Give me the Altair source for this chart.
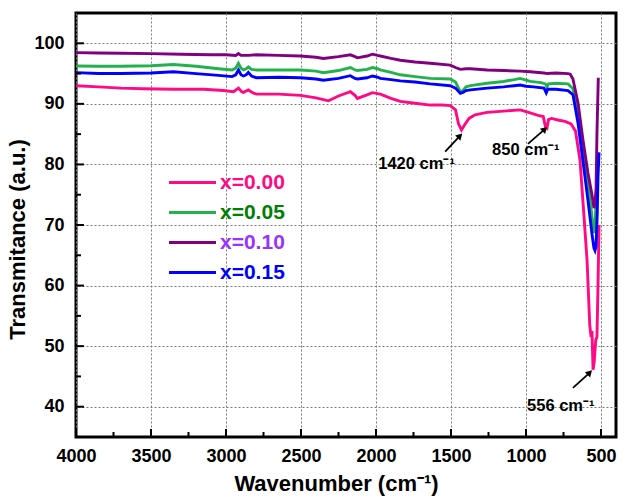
import altair as alt
import pandas as pd

# ---------------- data ----------------
series_names = ["x=0.00", "x=0.05", "x=0.10", "x=0.15"]
line_colors = ["#ff0a84", "#22b14c", "#800080", "#0000ff"]
label_colors = ["#ff0a84", "#007f00", "#9933ff", "#0000ff"]

wn_000 = [4000, 3850, 3700, 3550, 3350, 3150, 3017, 2950, 2917, 2895, 2884, 2851, 2820, 2797,
          2650, 2504, 2400, 2351, 2317, 2250, 2171, 2140, 2124, 2060, 2024, 1990, 1971, 1900,
          1838, 1740, 1638, 1560, 1505, 1470, 1450, 1430, 1410, 1380, 1340, 1259, 1150, 1039,
          972, 920, 885, 870, 860, 850, 830, 780, 740, 700, 670, 640, 615, 593, 575, 566, 560,
          553, 545, 535, 527, 520, 513]
t_000 = [93.0, 92.8, 92.6, 92.5, 92.4, 92.4, 92.2, 92.0, 92.6, 92.0, 91.9, 92.3, 91.8, 91.6,
         91.6, 91.4, 91.0, 90.7, 90.5, 91.3, 92.0, 91.4, 90.9, 91.5, 91.85, 91.7, 91.6, 90.9,
         90.4, 90.1, 89.8, 89.8, 89.7, 89.0, 86.7, 85.7, 86.5, 87.6, 88.2, 88.6, 88.8, 89.0,
         88.5, 88.1, 87.9, 86.2, 86.0, 87.4, 87.6, 87.3, 87.1, 86.7, 85.5, 80.7, 72.0, 64.2,
         53.5, 51.5, 52.5, 46.1, 47.5, 51.0, 51.5, 60.0, 70.0]

wn_005 = [4000, 3850, 3700, 3500, 3350, 3200, 3050, 2960, 2935, 2917, 2900, 2884, 2865, 2851,
          2830, 2797, 2650, 2504, 2400, 2351, 2250, 2171, 2140, 2124, 2060, 2024, 1990, 1971,
          1900, 1838, 1740, 1638, 1505, 1470, 1438, 1420, 1400, 1370, 1259, 1150, 1080, 1039,
          1000, 972, 900, 870, 860, 850, 800, 720, 687, 653, 620, 587, 560, 547, 540, 533, 527]
t_005 = [96.25, 96.2, 96.2, 96.3, 96.5, 96.2, 95.8, 95.6, 95.9, 96.7, 95.9, 95.6, 95.8, 96.1,
         95.7, 95.6, 95.6, 95.6, 95.4, 95.15, 95.5, 96.0, 95.6, 95.5, 95.7, 96.0, 95.8, 95.6,
         95.2, 94.8, 94.5, 94.2, 94.1, 93.6, 92.0, 92.2, 92.8, 93.0, 93.4, 93.7, 94.0, 94.2,
         93.9, 93.7, 93.5, 93.3, 92.8, 93.3, 93.4, 93.3, 92.5, 88.5, 83.0, 77.4, 71.3, 68.7,
         69.5, 74.0, 78.0]

wn_010 = [4000, 3850, 3700, 3500, 3300, 3100, 3000, 2935, 2917, 2900, 2851, 2797, 2650, 2504,
          2400, 2351, 2250, 2171, 2140, 2124, 2060, 2024, 1990, 1971, 1900, 1838, 1740, 1638,
          1505, 1470, 1438, 1400, 1370, 1259, 1150, 1039, 972, 880, 859, 800, 720, 705, 687,
          653, 620, 587, 560, 547, 540, 533, 527, 518]
t_010 = [98.45, 98.4, 98.35, 98.3, 98.2, 98.1, 98.1, 98.0, 98.3, 98.0, 98.0, 98.1, 98.0, 97.9,
         97.7, 97.5, 97.8, 98.1, 97.8, 97.6, 97.9, 98.2, 98.0, 97.9, 97.5, 97.2, 96.9, 96.7,
         96.4, 96.0, 95.7, 95.8, 95.8, 95.6, 95.5, 95.4, 95.3, 95.1, 95.0, 95.1, 95.0, 94.9,
         94.1, 90.1, 84.0, 78.6, 75.0, 72.8, 73.5, 76.0, 85.0, 94.3]

wn_015 = [4000, 3850, 3700, 3500, 3350, 3200, 3050, 2960, 2935, 2917, 2900, 2884, 2865, 2851,
          2830, 2797, 2650, 2504, 2400, 2351, 2250, 2171, 2140, 2124, 2060, 2024, 1990, 1971,
          1900, 1838, 1740, 1638, 1505, 1470, 1438, 1420, 1400, 1370, 1259, 1150, 1080, 1039,
          1000, 950, 880, 865, 855, 800, 720, 687, 653, 620, 587, 560, 547, 540, 533, 525, 520,
          513]
t_015 = [95.15, 95.0, 95.0, 95.1, 95.3, 95.0, 94.7, 94.5, 94.8, 95.6, 94.8, 94.6, 94.8, 95.2,
         94.6, 94.3, 94.4, 94.3, 94.1, 93.9, 94.2, 94.65, 94.2, 94.1, 94.3, 94.6, 94.4, 94.2,
         94.0, 93.8, 93.6, 93.3, 93.0, 92.6, 91.75, 91.9, 92.2, 92.3, 92.6, 92.8, 93.0, 93.1,
         92.9, 92.8, 92.6, 91.8, 92.4, 92.4, 92.2, 91.5, 86.8, 80.5, 74.1, 68.5, 66.2, 65.8,
         66.5, 72.0, 78.0, 82.0]

x_ticks_major = [500, 1000, 1500, 2000, 2500, 3000, 3500, 4000]
x_ticks_minor = [750, 1250, 1750, 2250, 2750, 3250, 3750]
y_ticks_major = [40, 50, 60, 70, 80, 90, 100]
y_ticks_minor = [45, 55, 65, 75, 85, 95]

ann_labels = ["1420 cm⁻¹", "850 cm⁻¹", "556 cm⁻¹"]
ann_text_wn = [1985, 1226, 993]
ann_text_t = [80.1, 82.4, 40.2]
arrow_tail_wn = [1539, 987, 687]
arrow_tail_t = [82.1, 83.4, 43.1]
arrow_head_wn = [1445, 880, 580]
arrow_head_t = [84.6, 85.7, 45.5]

# ---------------- tables ----------------
frames = []
for name, wn, t in zip(series_names,
                       [wn_000, wn_005, wn_010, wn_015],
                       [t_000, t_005, t_010, t_015]):
    frames.append(pd.DataFrame({"wn": wn, "t": t, "series": name}))
spectra = pd.concat(frames, ignore_index=True)

X_MIN, X_MAX = 400, 4000
Y_MIN, Y_MAX = 35, 105
XT_MAJ, XT_MIN = 1.32, 0.83     # tick lengths (in T units)
YT_MAJ, YT_MIN = 53, 33         # tick lengths (in wavenumber units)

xticks = pd.DataFrame(
    [{"wn": v, "t": Y_MIN, "t2": Y_MIN + XT_MAJ} for v in x_ticks_major]
    + [{"wn": v, "t": Y_MIN, "t2": Y_MIN + XT_MIN} for v in x_ticks_minor])
yticks = pd.DataFrame(
    [{"wn": X_MAX, "wn2": X_MAX - YT_MAJ, "t": v} for v in y_ticks_major]
    + [{"wn": X_MAX, "wn2": X_MAX - YT_MIN, "t": v} for v in y_ticks_minor])

ann = pd.DataFrame({"label": ann_labels, "wn": ann_text_wn, "t": ann_text_t})
arrows = pd.DataFrame({"wn": arrow_tail_wn, "t": arrow_tail_t,
                       "wn2": arrow_head_wn, "t2": arrow_head_t})
heads = pd.DataFrame({"wn": arrow_head_wn, "t": arrow_head_t})

FONT = "Liberation Sans"

x_axis = alt.Axis(values=x_ticks_major, title="Wavenumber (cm⁻¹)", grid=True,
                  gridDash=[2, 2], gridColor="#7a7a7a", gridWidth=1, domain=False,
                  ticks=False, labelPadding=10, labelFontSize=18, labelFont=FONT,
                  labelFontWeight="bold", labelColor="black", titleFont=FONT,
                  titleFontSize=22, titleFontWeight="bold", titleColor="black",
                  titlePadding=8, titleX=260, format="d", labelFlush=False)
y_axis = alt.Axis(values=y_ticks_major, title="Transmitance (a.u.)", grid=True,
                  gridDash=[2, 2], gridColor="#7a7a7a", gridWidth=1, domain=False,
                  ticks=False, labelPadding=12, labelFontSize=18, labelFont=FONT,
                  labelFontWeight="bold", labelColor="black", titleFont=FONT,
                  titleFontSize=22, titleFontWeight="bold", titleColor="black",
                  titlePadding=4, titleY=226, labelFlush=False)

x_scale = alt.Scale(domain=[X_MIN, X_MAX], reverse=True, nice=False, zero=False)
y_scale = alt.Scale(domain=[Y_MIN, Y_MAX], nice=False, zero=False)


def X():
    return alt.X("wn:Q", scale=x_scale, axis=x_axis)


def Y():
    return alt.Y("t:Q", scale=y_scale, axis=y_axis)


color_expr = " : ".join(
    f"datum.label == '{n}' ? '{c}'" for n, c in zip(series_names, label_colors)
) + " : 'black'"

lines = alt.Chart(spectra).mark_line(strokeWidth=2.9, clip=True).encode(
    x=X(), y=Y(),
    color=alt.Color("series:N",
                    scale=alt.Scale(domain=series_names, range=line_colors),
                    legend=alt.Legend(orient="none", legendX=103, legendY=156, title=None,
                                      symbolType="M-2,0H2", symbolSize=552,
                                      symbolStrokeWidth=3.2, labelFontSize=21,
                                      labelFont=FONT, labelFontWeight="bold",
                                      labelColor={"expr": color_expr},
                                      labelOffset=14, rowPadding=6, padding=0)),
    order=alt.Order("wn:Q", sort="descending"),
)

xtick_layer = alt.Chart(xticks).mark_rule(color="black", strokeWidth=2).encode(
    x=X(), y=Y(), y2="t2:Q")
ytick_layer = alt.Chart(yticks).mark_rule(color="black", strokeWidth=2).encode(
    x=X(), x2="wn2:Q", y=Y())

ann_text = alt.Chart(ann).mark_text(align="left", baseline="middle", fontSize=16.5,
                                    font=FONT, fontWeight="bold", color="black").encode(
    x=X(), y=Y(), text="label:N")
arrow_lines = alt.Chart(arrows).mark_rule(color="black", strokeWidth=1.8).encode(
    x=X(), y=Y(), x2="wn2:Q", y2="t2:Q")
arrow_heads = alt.Chart(heads).mark_point(shape="triangle", filled=True, size=55,
                                          angle=45, color="black", opacity=1).encode(
    x=X(), y=Y())

chart = alt.layer(lines, xtick_layer, ytick_layer, arrow_lines, arrow_heads, ann_text).properties(
    width=540, height=424,
    autosize=alt.AutoSizeParams(type="none"),
    padding={"left": 76, "top": 13, "right": 12, "bottom": 61},
    background="white",
).configure_view(stroke="black", strokeWidth=3)

chart.save("out.html", embed_options={"renderer": "svg", "actions": False})
